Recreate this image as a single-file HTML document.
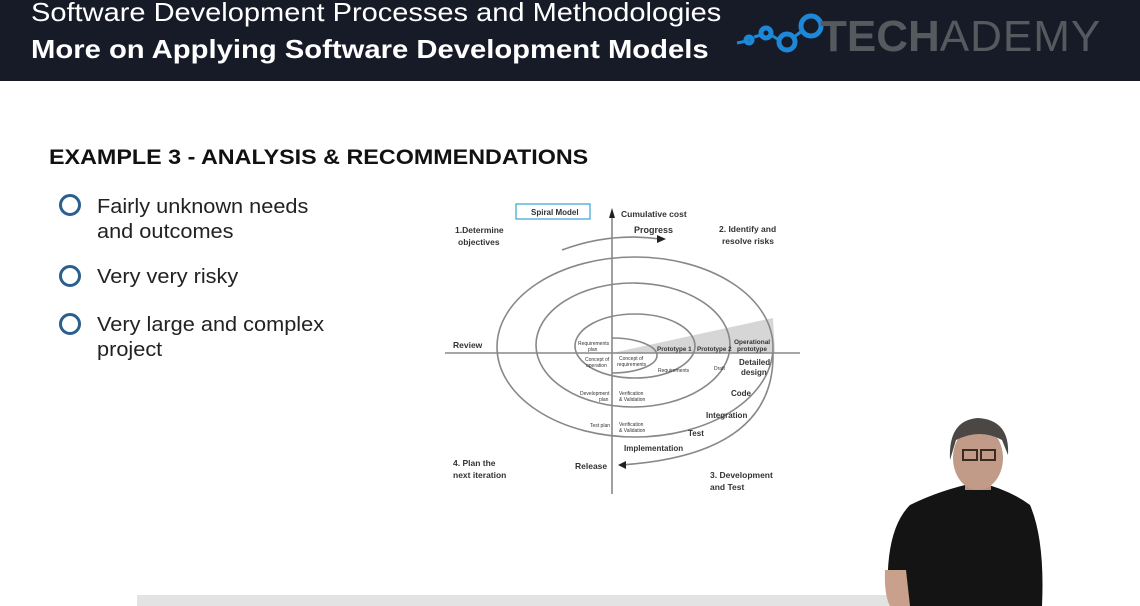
<!DOCTYPE html>
<html><head><meta charset="utf-8"><style>
html,body{margin:0;padding:0;width:1140px;height:606px;overflow:hidden;background:#fff;font-family:"Liberation Sans",sans-serif}
.hdr{position:absolute;left:0;top:0;width:1140px;height:81px;background:#161b27}
.h1{position:absolute;left:31px;top:-3px;color:#fff;font-size:26px;font-weight:300;white-space:nowrap;transform:scaleX(1.116);transform-origin:left}
.h2{position:absolute;left:31px;top:34px;color:#fff;font-size:26px;font-weight:bold;white-space:nowrap;transform:scaleX(1.124);transform-origin:left}
.logo{position:absolute;left:820px;top:12px;font-size:44px;color:#555a5f;letter-spacing:1px;white-space:nowrap}
.title{position:absolute;left:49px;top:146px;font-size:21px;font-weight:bold;color:#111;white-space:nowrap;transform:scaleX(1.11);transform-origin:left}
.b{position:absolute;left:97px;font-size:20.5px;color:#222;line-height:25px;white-space:nowrap;transform:scaleX(1.06);transform-origin:left}
.c{position:absolute;left:59px;width:16px;height:16px;border:3px solid #2b5f90;border-radius:50%}
</style></head><body>
<div class="hdr"></div>
<div class="h1">Software Development Processes and Methodologies</div>
<div class="h2">More on Applying Software Development Models</div>
<svg style="position:absolute;left:735px;top:10px" width="90" height="50">
<g fill="none" stroke="#1e88d8" stroke-width="5"><circle cx="76" cy="16" r="10"/><circle cx="52" cy="32" r="8"/><circle cx="31" cy="23" r="5"/><circle cx="14" cy="30" r="3"/></g>
<path d="M2 33 L12 31 M19 27 L26 25 M36 25 L44 30 M59 27 L67 21" stroke="#1e88d8" stroke-width="3"/>
</svg>
<div class="logo"><b style="letter-spacing:0">TECH</b>ADEMY</div>

<div class="title">EXAMPLE 3 - ANALYSIS &amp; RECOMMENDATIONS</div>
<div class="c" style="top:194px"></div><div class="b" style="top:194px">Fairly unknown needs<br>and outcomes</div>
<div class="c" style="top:265px"></div><div class="b" style="top:264px">Very very risky</div>
<div class="c" style="top:313px"></div><div class="b" style="top:312px">Very large and complex<br>project</div>

<svg style="position:absolute;left:0;top:0" width="1140" height="606" font-family="Liberation Sans" font-weight="bold" fill="#333">
<polygon points="612,353 773,318 775,353" fill="#d6d6d6"/>
<g fill="none" stroke="#888" stroke-width="1.6">
<line x1="612" y1="212" x2="612" y2="494"/>
<line x1="445" y1="353" x2="800" y2="353"/>
<ellipse cx="635" cy="347" rx="138" ry="90"/>
<ellipse cx="633" cy="345" rx="97" ry="62"/>
<ellipse cx="635" cy="346" rx="60" ry="32"/>
<path d="M612 338 A45 17.5 0 0 1 612 373"/>
<path d="M773 353 Q775 455 620 465"/>
<path d="M562 250 Q610 232 660 239"/>
</g>
<polygon points="612,208 609,218 615,218" fill="#222"/>
<polygon points="618,465 626,461 626,469" fill="#222"/>
<polygon points="666,239 657,235 657,243" fill="#222"/>
<rect x="516" y="204" width="74" height="15" fill="none" stroke="#45a9d6" stroke-width="1.3"/>
<text x="531" y="215" font-size="8">Spiral Model</text>
<g font-size="8.5">
<text x="621" y="217">Cumulative cost</text>
<text x="634" y="233" font-size="9">Progress</text>
<text x="455" y="233">1.Determine</text><text x="458" y="245">objectives</text>
<text x="719" y="232">2. Identify and</text><text x="722" y="244">resolve risks</text>
<text x="453" y="348">Review</text>
<text x="453" y="466">4. Plan the</text><text x="453" y="478">next iteration</text>
<text x="575" y="469">Release</text>
<text x="710" y="478">3. Development</text><text x="710" y="490">and Test</text>
<text x="624" y="451" font-size="8">Implementation</text>
<text x="688" y="436" font-size="8">Test</text>
<text x="706" y="418" font-size="8">Integration</text>
<text x="731" y="396" font-size="8">Code</text>
<text x="739" y="365" font-size="8">Detailed</text><text x="741" y="375" font-size="8">design</text>
<text x="734" y="344" font-size="6.5">Operational</text><text x="737" y="351" font-size="6.5">prototype</text>
<text x="697" y="351" font-size="6.3">Prototype 2</text>
<text x="657" y="351" font-size="6.3">Prototype 1</text>
</g>
<g font-size="5" font-weight="normal" fill="#333">
<text x="578" y="345">Requirements</text><text x="588" y="351">plan</text>
<text x="585" y="361">Concept of</text><text x="586" y="367">operation</text>
<text x="619" y="360">Concept of</text><text x="617" y="366">requirements</text>
<text x="658" y="372">Requirements</text>
<text x="714" y="370">Draft</text>
<text x="580" y="395">Development</text><text x="599" y="401">plan</text>
<text x="619" y="395">Verification</text><text x="619" y="401">&amp; Validation</text>
<text x="590" y="427">Test plan</text>
<text x="619" y="426">Verification</text><text x="619" y="432">&amp; Validation</text>
</g>
</svg>

<div style="position:absolute;left:137px;top:595px;width:760px;height:11px;background:#e3e3e3"></div>
<svg style="position:absolute;left:870px;top:410px" width="200" height="196">
<path d="M18 185 Q15 120 40 95 Q70 80 108 72 Q140 80 160 95 Q175 130 172 196 L20 196 Z" fill="#141414"/>
<rect x="95" y="60" width="26" height="20" fill="#b89080"/>
<ellipse cx="108" cy="48" rx="25" ry="32" fill="#c19a88"/>
<path d="M80 50 Q78 10 108 8 Q140 10 138 45 L132 30 Q110 18 86 30 Z" fill="#4a4744"/>
<rect x="93" y="40" width="14" height="10" fill="none" stroke="#3a2a22" stroke-width="2"/>
<rect x="111" y="40" width="14" height="10" fill="none" stroke="#3a2a22" stroke-width="2"/>
<path d="M15 160 Q14 185 20 196 L40 196 L36 160 Z" fill="#c8a08c"/>
</svg>
</body></html>
